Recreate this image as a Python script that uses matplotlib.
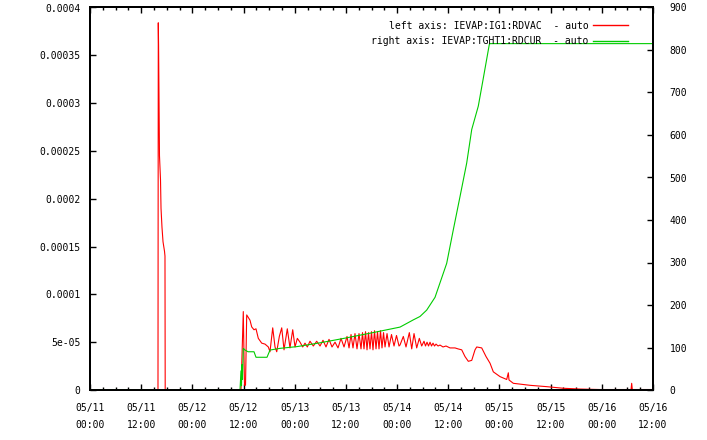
import matplotlib
matplotlib.use("Agg")
import matplotlib.pyplot as plt
from matplotlib.ticker import FixedLocator, MultipleLocator

# time axis: hours since 05/11 00:00
vac_hours = [0, 15.94, 16.01, 16.08, 16.29, 16.53, 16.65, 16.88, 17.12, 17.47, 17.58, 17.63,
             35.05, 35.4, 35.94, 36.22, 36.46, 36.74, 37.51, 37.91, 38.45, 38.92, 39.46, 40.26,
             41.03, 41.81, 42.2, 42.84, 43.38, 43.78, 44.39, 44.95, 45.49, 46.26, 46.89, 47.53,
             48.07, 48.61, 49.24, 49.87, 50.41, 50.95, 51.58, 52.36, 53.15, 53.93, 54.63, 55.33,
             56.04, 56.74, 57.45, 58.15, 58.85, 59.56, 60.26, 60.73, 61.2, 61.66, 62.13, 62.6,
             63.07, 63.54, 63.89, 64.24, 64.6, 64.95, 65.3, 65.65, 66.0, 66.35, 66.71, 67.06,
             67.41, 67.76, 68.11, 68.46, 68.82, 69.17, 69.64, 70.11, 70.69, 71.28, 71.86, 72.45,
             72.68, 73.46, 74.09, 74.87, 75.43, 75.97, 76.6, 77.21, 77.77, 78.31, 78.66, 79.02,
             79.37, 79.72, 80.07, 80.42, 80.77, 81.13, 81.6, 82.06, 82.77, 83.47, 84.41, 85.58,
             86.28, 87.15, 87.92, 88.7, 89.5, 90.27, 90.67, 91.84, 92.85, 93.79, 94.56, 96.13,
             97.7, 98.08, 98.24, 99.25, 103.17, 107.08, 110.97, 114.89, 119.58, 126.85, 127.0,
             127.15, 132]
# IEVAP:IG1:RDVAC, in units of 1e-05
vac_e5 = [0, 0, 38.4, 36, 24.5, 22, 19, 17, 15.5, 14.5, 14, 0,
          0, 0, 8.2, 0.5, 0.5, 7.85, 7.3, 6.6, 6.3, 6.4, 5.4, 4.9,
          4.8, 4.5, 4.0, 6.5, 4.5, 4.0, 5.6, 6.5, 4.2, 6.4, 4.4, 6.3,
          4.5, 5.4, 5.0, 4.5, 4.9, 4.5, 5.1, 4.6, 5.1, 4.6, 5.2, 4.5,
          5.3, 4.5, 5.0, 4.4, 5.4, 4.5, 5.6, 4.4, 5.8, 4.4, 5.9, 4.3,
          5.9, 4.3, 6.0, 4.3, 6.1, 4.2, 6.0, 4.3, 6.1, 4.2, 6.2, 4.3,
          6.1, 4.3, 6.2, 4.4, 6.0, 4.5, 5.9, 4.5, 5.8, 4.6, 5.7, 4.6,
          4.7, 5.6, 4.5, 6.0, 4.3, 5.9, 4.4, 5.4, 4.6, 5.1, 4.6, 5.0,
          4.6, 5.0, 4.6, 4.9, 4.6, 4.8, 4.6, 4.7, 4.5, 4.6, 4.4, 4.4,
          4.3, 4.2, 3.5, 3.0, 3.1, 4.2, 4.5, 4.4, 3.5, 2.8, 1.9, 1.4,
          1.1, 1.8, 1.05, 0.7, 0.49, 0.35, 0.18, 0.1, 0.05, 0.05, 0.7,
          0.05, 0.05]

cur_hours = [0, 35.17, 35.4, 35.52, 35.64, 35.76, 35.94, 36.34, 37.05, 38.45, 38.92, 41.5,
             42.2, 44.55, 48.46, 53.93, 59.79, 66.82, 72.68, 75.8, 77.37, 78.94, 80.89, 83.63,
             85.18, 86.75, 88.32, 89.5, 91.04, 92.15, 93.62, 93.79, 132]
# IEVAP:TGHT1:RDCUR
cur_vals = [0, 0, 45, 10, 60, 25, 98, 94, 90, 90, 77, 77,
            94, 98, 102, 111, 122, 136, 148, 165, 173, 188, 218, 298,
            377, 455, 534, 613, 668, 730, 813, 815, 815]

x_tick_labels = ["05/11\n00:00", "05/11\n12:00", "05/12\n00:00", "05/12\n12:00",
                 "05/13\n00:00", "05/13\n12:00", "05/14\n00:00", "05/14\n12:00",
                 "05/15\n00:00", "05/15\n12:00", "05/16\n00:00", "05/16\n12:00"]
left_tick_labels = ["0", "5e-05", "0.0001", "0.00015", "0.0002",
                    "0.00025", "0.0003", "0.00035", "0.0004"]

FONT = "DejaVu Sans Mono"
FS = 7
RED = "#ff0000"
GREEN = "#00cc00"

fig = plt.figure(figsize=(7.07, 4.40), dpi=100)
ax = fig.add_axes([90 / 707, 50 / 440, 563 / 707, 382.5 / 440])
ax2 = ax.twinx()

vac = [v * 1e-5 for v in vac_e5]
ax.plot(vac_hours, vac, color=RED, lw=0.8,
        label="left axis: IEVAP:IG1:RDVAC  - auto")
ax2.plot(cur_hours, cur_vals, color=GREEN, lw=0.8,
         label="right axis: IEVAP:TGHT1:RDCUR  - auto")

ax.set_xlim(0, 132)
ax.set_ylim(0, 0.0004)
ax2.set_ylim(0, 900)

ax.xaxis.set_major_locator(FixedLocator([12 * i for i in range(len(x_tick_labels))]))
ax.xaxis.set_minor_locator(MultipleLocator(3))
ax.set_xticklabels(x_tick_labels, fontfamily=FONT, fontsize=FS, linespacing=1.9)

left_ticks = [float(s) for s in left_tick_labels]
ax.yaxis.set_major_locator(FixedLocator(left_ticks))
ax.set_yticklabels(left_tick_labels, fontfamily=FONT, fontsize=FS)

ax2.yaxis.set_major_locator(MultipleLocator(100))
for lab in ax2.get_yticklabels():
    lab.set_fontfamily(FONT)
    lab.set_fontsize(FS)

ax.tick_params(axis="x", which="major", direction="in", length=4, width=1,
               top=True, bottom=True, pad=9)
ax.tick_params(axis="x", which="minor", direction="in", length=2, width=1,
               top=True, bottom=True)
ax.tick_params(axis="y", which="major", direction="in", length=4, width=1,
               left=True, right=False, pad=7)
ax2.tick_params(axis="y", direction="in", length=4, width=1, pad=12)

for a in (ax, ax2):
    for sp in a.spines.values():
        sp.set_linewidth(1.4)

h1, l1 = ax.get_legend_handles_labels()
h2, l2 = ax2.get_legend_handles_labels()
leg = ax2.legend(h1 + h2, l1 + l2, loc="upper right", bbox_to_anchor=(0.956, 0.965),
                 frameon=False, markerfirst=False, borderpad=0, borderaxespad=0,
                 handlelength=3.6, handletextpad=0.5, labelspacing=0.55,
                 prop={"family": FONT, "size": FS})
for line, col in zip(leg.get_lines(), (RED, GREEN)):
    line.set_color(col)
    line.set_linewidth(1.0)

fig.savefig("out.png", dpi=100)
